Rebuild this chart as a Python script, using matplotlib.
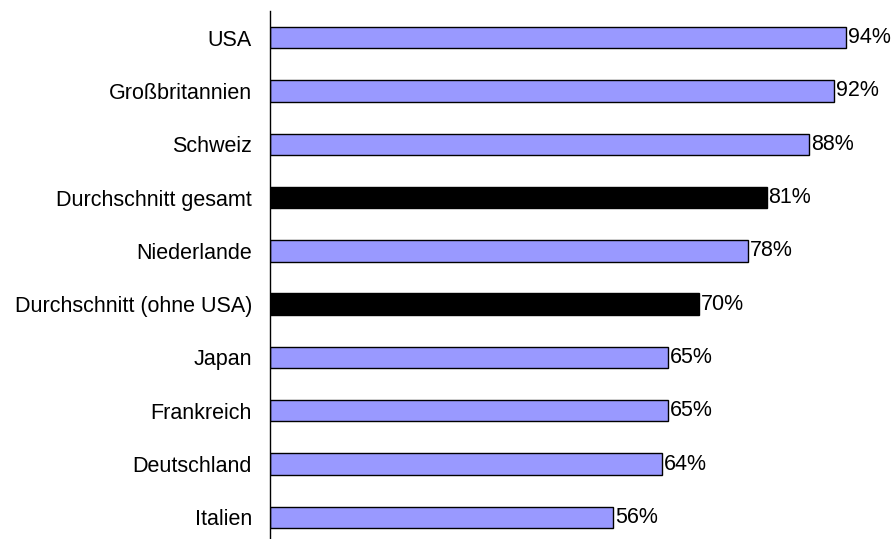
import matplotlib.pyplot as plt

plt.rcParams['font.family'] = ['Liberation Sans', 'DejaVu Sans']

# Anteil in Prozent, von oben nach unten
countries = ['USA', 'Großbritannien', 'Schweiz', 'Durchschnitt gesamt', 'Niederlande',
             'Durchschnitt (ohne USA)', 'Japan', 'Frankreich', 'Deutschland', 'Italien']
values = [94, 92, 88, 81, 78, 70, 65, 65, 64, 56]
is_average = [False, False, False, True, False, True, False, False, False, False]

fig = plt.figure(figsize=(8.95, 5.39), dpi=100)
ax = fig.add_axes([270 / 895, -5 / 539, 613 / 895, 533 / 539])

colors = ['black' if a else '#9999ff' for a in is_average]
ypos = list(range(len(countries)))
ax.barh(ypos, values, height=0.4, color=colors, edgecolor='black', linewidth=1)

for y, v in zip(ypos, values):
    ax.text(v + 0.3, y, f'{v}%', va='center', ha='left', fontsize=15.5)

ax.set_xlim(0, 100)
ax.set_ylim(len(countries) - 0.5, -0.5)
ax.set_yticks(ypos)
ax.set_yticklabels(countries, fontsize=15.5)
ax.tick_params(axis='y', length=0, pad=13)
ax.set_xticks([])
for s in ['top', 'right', 'bottom']:
    ax.spines[s].set_visible(False)
ax.spines['left'].set_linewidth(1)

fig.savefig('out.png', dpi=100)
